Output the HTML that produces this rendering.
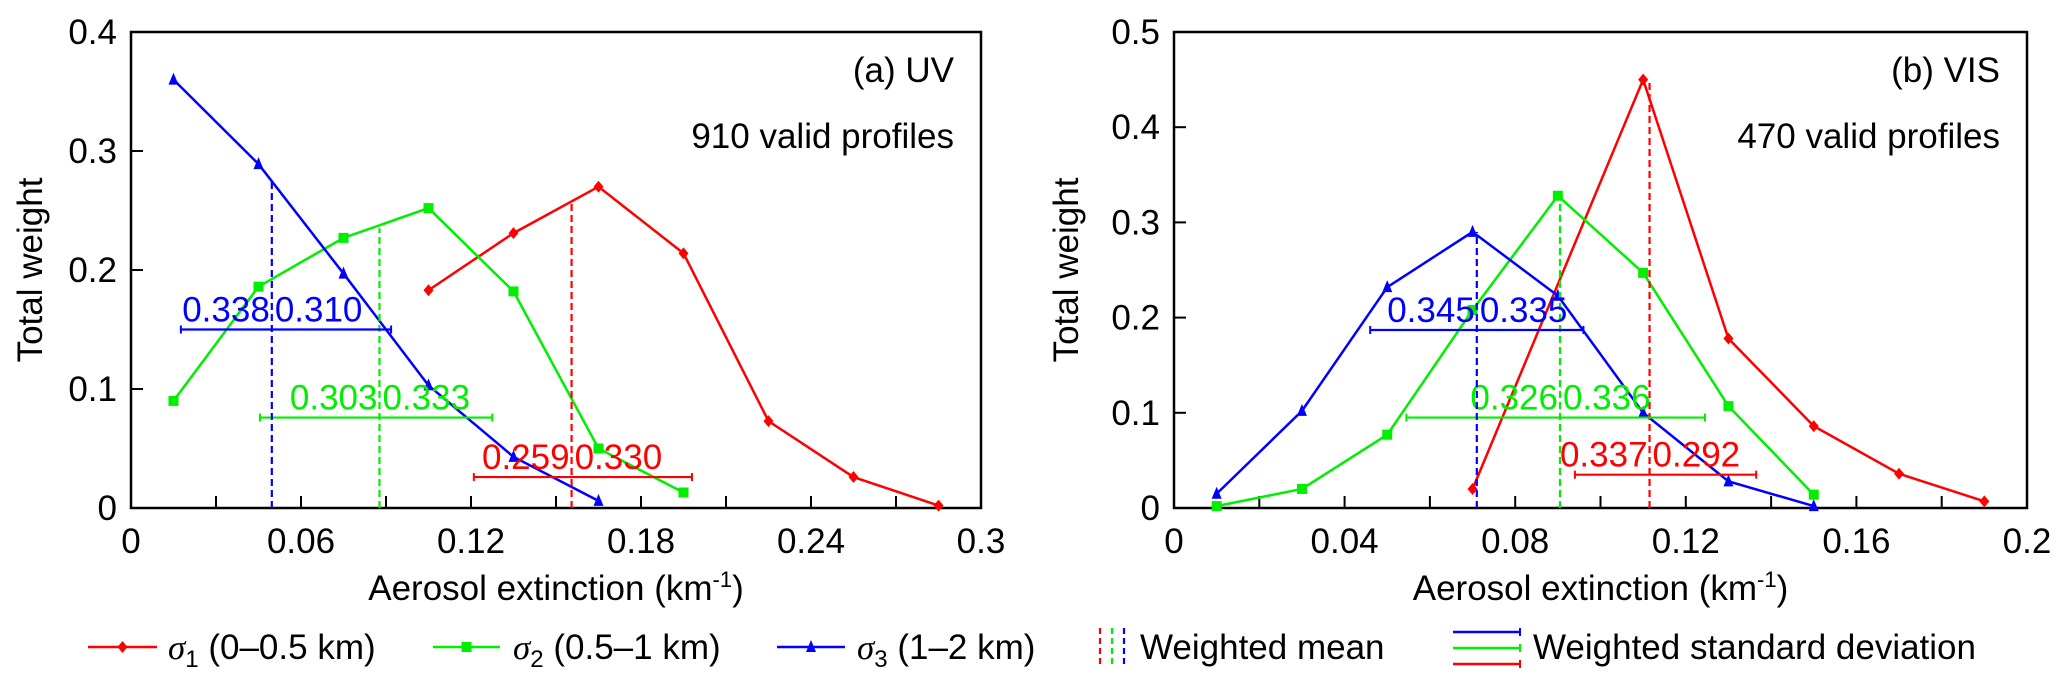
<!DOCTYPE html>
<html><head><meta charset="utf-8"><style>
body{margin:0;background:#fff;}
svg{display:block;font-family:"Liberation Sans",Arial,sans-serif;}
</style></head><body>
<svg id="chart" width="2067" height="686" viewBox="0 0 2067 686" xmlns="http://www.w3.org/2000/svg"></svg>
<script>
// ---- Panel (a) UV data ----
const uvRedX = [0.105,0.135,0.165,0.195,0.225,0.255,0.285];
const uvRedY = [0.183,0.231,0.270,0.214,0.073,0.026,0.002];
const uvGreenX = [0.015,0.045,0.075,0.105,0.135,0.165,0.195];
const uvGreenY = [0.090,0.186,0.227,0.252,0.182,0.050,0.013];
const uvBlueX = [0.015,0.045,0.075,0.105,0.135,0.165];
const uvBlueY = [0.360,0.289,0.197,0.103,0.043,0.006];
const uvMeans = [0.1555,0.0877,0.0497];
const uvMeanTops = [0.258,0.235,0.275];
const uvStdY = [0.026,0.076,0.150];
const uvStdLo = [0.121,0.0455,0.0176];
const uvStdHi = [0.198,0.1275,0.0918];
const uvStdLabL = ["0.259","0.303","0.338"];
const uvStdLabR = ["0.330","0.333","0.310"];
const uvXTicks = [0,0.06,0.12,0.18,0.24,0.3];
const uvXTickLabels = ["0","0.06","0.12","0.18","0.24","0.3"];
const uvYTicks = [0,0.1,0.2,0.3,0.4];
const uvYTickLabels = ["0","0.1","0.2","0.3","0.4"];
// ---- Panel (b) VIS data ----
const visRedX = [0.07,0.11,0.13,0.15,0.17,0.19];
const visRedY = [0.020,0.450,0.178,0.086,0.036,0.007];
const visGreenX = [0.01,0.03,0.05,0.07,0.09,0.11,0.13,0.15];
const visGreenY = [0.002,0.020,0.077,0.208,0.328,0.247,0.107,0.014];
const visBlueX = [0.01,0.03,0.05,0.07,0.09,0.11,0.13,0.15];
const visBlueY = [0.015,0.102,0.232,0.290,0.223,0.100,0.028,0.002];
const visMeans = [0.1115,0.0905,0.071];
const visMeanTops = [0.450,0.328,0.290];
const visStdY = [0.035,0.095,0.187];
const visStdLo = [0.094,0.0545,0.046];
const visStdHi = [0.1365,0.1245,0.096];
const visStdLabL = ["0.337","0.326","0.345"];
const visStdLabR = ["0.292","0.336","0.335"];
const visXTicks = [0,0.04,0.08,0.12,0.16,0.2];
const visXTickLabels = ["0","0.04","0.08","0.12","0.16","0.2"];
const visYTicks = [0,0.1,0.2,0.3,0.4,0.5];
const visYTickLabels = ["0","0.1","0.2","0.3","0.4","0.5"];

const NS="http://www.w3.org/2000/svg";
const svg=document.getElementById('chart');
function mk(tag,attrs,parent){const e=document.createElementNS(NS,tag);for(const k in attrs)e.setAttribute(k,attrs[k]);(parent||svg).appendChild(e);return e;}
const COLORS=["#ff0000","#00ee00","#0000ff"];
const FS=35;

function panel(o){
  const g=mk('g',{});
  
  
  const X=v=>o.x0+(v-o.xmin)/(o.xmax-o.xmin)*(o.x1-o.x0);
  const Y=v=>o.y0-(v)/(o.ymax)*(o.y0-o.y1);
  const fr=mk('rect',{x:o.x0,y:o.y1,width:o.x1-o.x0,height:o.y0-o.y1,fill:'none',stroke:'#000','stroke-width':2.5},g);
  
  o.xt.forEach((t,i)=>{
    const x=X(t);
    mk('line',{x1:x,x2:x,y1:o.y0,y2:o.y0-12,stroke:'#000','stroke-width':2},g);
    if(i<o.xt.length-1){const xm=X((t+o.xt[i+1])/2);mk('line',{x1:xm,x2:xm,y1:o.y0,y2:o.y0-12,stroke:'#000','stroke-width':2},g);}
    const tx=mk('text',{x:x,y:553,'font-size':FS,'text-anchor':'middle'},g);tx.textContent=o.xtl[i];
    
  });
  o.yt.forEach((t,i)=>{
    const y=Y(t);
    mk('line',{x1:o.x0,x2:o.x0+12,y1:y,y2:y,stroke:'#000','stroke-width':2},g);
    const tx=mk('text',{x:o.x0-14,y:y+12,'font-size':FS,'text-anchor':'end'},g);tx.textContent=o.ytl[i];
    
  });
  const xt=mk('text',{x:(o.x0+o.x1)/2,y:600,'font-size':FS,'text-anchor':'middle'},g);
  xt.innerHTML='Aerosol extinction (km<tspan dy="-13" font-size="22">-1</tspan><tspan dy="13">)</tspan>';
  
  const yt=mk('text',{x:0,y:0,'font-size':FS,'text-anchor':'middle',transform:`translate(${o.ytx},${(o.y0+o.y1)/2}) rotate(-90)`},g);
  yt.textContent='Total weight';
  
  const t1=mk('text',{x:o.labX,y:82,'font-size':FS,'text-anchor':'end'},g);t1.textContent=o.title;
  
  const t2=mk('text',{x:o.labX,y:148,'font-size':FS,'text-anchor':'end'},g);t2.textContent=o.count;
  
  o.series.forEach((s,si)=>{
    const c=COLORS[si];
    const pts=s.x.map((v,i)=>X(v)+','+Y(s.y[i])).join(' ');
    const pl=mk('polyline',{points:pts,fill:'none',stroke:c,'stroke-width':2.5},g);
    
    s.x.forEach((v,i)=>{
      const cx=X(v),cy=Y(s.y[i]);let m;
      if(si===0)m=mk('polygon',{points:`${cx},${cy-6} ${cx+5},${cy} ${cx},${cy+6} ${cx-5},${cy}`,fill:c},g);
      else if(si===1)m=mk('rect',{x:cx-5,y:cy-5,width:10,height:10,fill:c},g);
      else m=mk('polygon',{points:`${cx},${cy-7} ${cx+5},${cy+5} ${cx-5},${cy+5}`,fill:c},g);
      
    });
  });
  for(let k=0;k<3;k++){
    const c=COLORS[k];
    const xm=X(o.means[k]);
    const ml=mk('line',{x1:xm,x2:xm,y1:o.y0,y2:Y(o.tops[k]),stroke:c,'stroke-width':2.2,'stroke-dasharray':'7,4'},g);
    
    const ys=Y(o.sy[k]),xa=X(o.lo[k]),xb=X(o.hi[k]);
    const sl=mk('line',{x1:xa,x2:xb,y1:ys,y2:ys,stroke:c,'stroke-width':2.2},g);
    
    mk('line',{x1:xa,x2:xa,y1:ys-4,y2:ys+4,stroke:c,'stroke-width':2},g);
    mk('line',{x1:xb,x2:xb,y1:ys-4,y2:ys+4,stroke:c,'stroke-width':2},g);
    const la=mk('text',{x:xm-2,y:ys-8,'font-size':FS,'text-anchor':'end',fill:c},g);la.textContent=o.labL[k];
    
    const lb=mk('text',{x:xm+3,y:ys-8,'font-size':FS,'text-anchor':'start',fill:c},g);lb.textContent=o.labR[k];
    
  }
}
panel({name:'panel-a-uv',x0:131,x1:981,y0:508,y1:32,xmin:0,xmax:0.3,ymax:0.4,xt:uvXTicks,xtl:uvXTickLabels,yt:uvYTicks,ytl:uvYTickLabels,ytx:42,labX:954,title:'(a) UV',count:'910 valid profiles',
  series:[{x:uvRedX,y:uvRedY},{x:uvGreenX,y:uvGreenY},{x:uvBlueX,y:uvBlueY}],means:uvMeans,tops:uvMeanTops,sy:uvStdY,lo:uvStdLo,hi:uvStdHi,labL:uvStdLabL,labR:uvStdLabR});
panel({name:'panel-b-vis',x0:1174,x1:2027,y0:508,y1:32,xmin:0,xmax:0.2,ymax:0.5,xt:visXTicks,xtl:visXTickLabels,yt:visYTicks,ytl:visYTickLabels,ytx:1078,labX:2000,title:'(b) VIS',count:'470 valid profiles',
  series:[{x:visRedX,y:visRedY},{x:visGreenX,y:visGreenY},{x:visBlueX,y:visBlueY}],means:visMeans,tops:visMeanTops,sy:visStdY,lo:visStdLo,hi:visStdHi,labL:visStdLabL,labR:visStdLabR});

const lg=mk('g',{});


const legItems=[[88,157,168,'1','(0–0.5 km)'],[433,500,513,'2','(0.5–1 km)'],[777,845,857,'3','(1–2 km)']];
legItems.forEach((it,i)=>{
  const c=COLORS[i];const y=647;
  const l=mk('line',{x1:it[0],x2:it[1],y1:y,y2:y,stroke:c,'stroke-width':2.5},lg);
  
  const cx=(it[0]+it[1])/2;
  if(i===0)mk('polygon',{points:`${cx},${y-6} ${cx+5},${y} ${cx},${y+6} ${cx-5},${y}`,fill:c},lg);
  else if(i===1)mk('rect',{x:cx-5,y:y-5,width:10,height:10,fill:c},lg);
  else mk('polygon',{points:`${cx},${y-7} ${cx+5},${y+5} ${cx-5},${y+5}`,fill:c},lg);
  const t=mk('text',{x:it[2],y:659,'font-size':FS},lg);
  t.innerHTML=`<tspan font-family="Liberation Serif" font-style="italic">σ</tspan><tspan dy="8" font-size="24">${it[3]}</tspan><tspan dy="-8"> ${it[4]}</tspan>`;
  
});
[1100,1112,1124].forEach((x,i)=>{mk('line',{x1:x,x2:x,y1:628,y2:668,stroke:COLORS[i],'stroke-width':2.2,'stroke-dasharray':'6,4'},lg);});
const wm=mk('text',{x:1140,y:659,'font-size':FS},lg);wm.textContent='Weighted mean';

[[632,2],[648,1],[664,0]].forEach(([y,ci])=>{mk('line',{x1:1453,x2:1520,y1:y,y2:y,stroke:COLORS[ci],'stroke-width':2.5},lg);mk('line',{x1:1520,x2:1520,y1:y-4,y2:y+4,stroke:COLORS[ci],'stroke-width':2},lg);});
const ws=mk('text',{x:1533,y:659,'font-size':FS},lg);ws.textContent='Weighted standard deviation';

</script>
</body></html>
